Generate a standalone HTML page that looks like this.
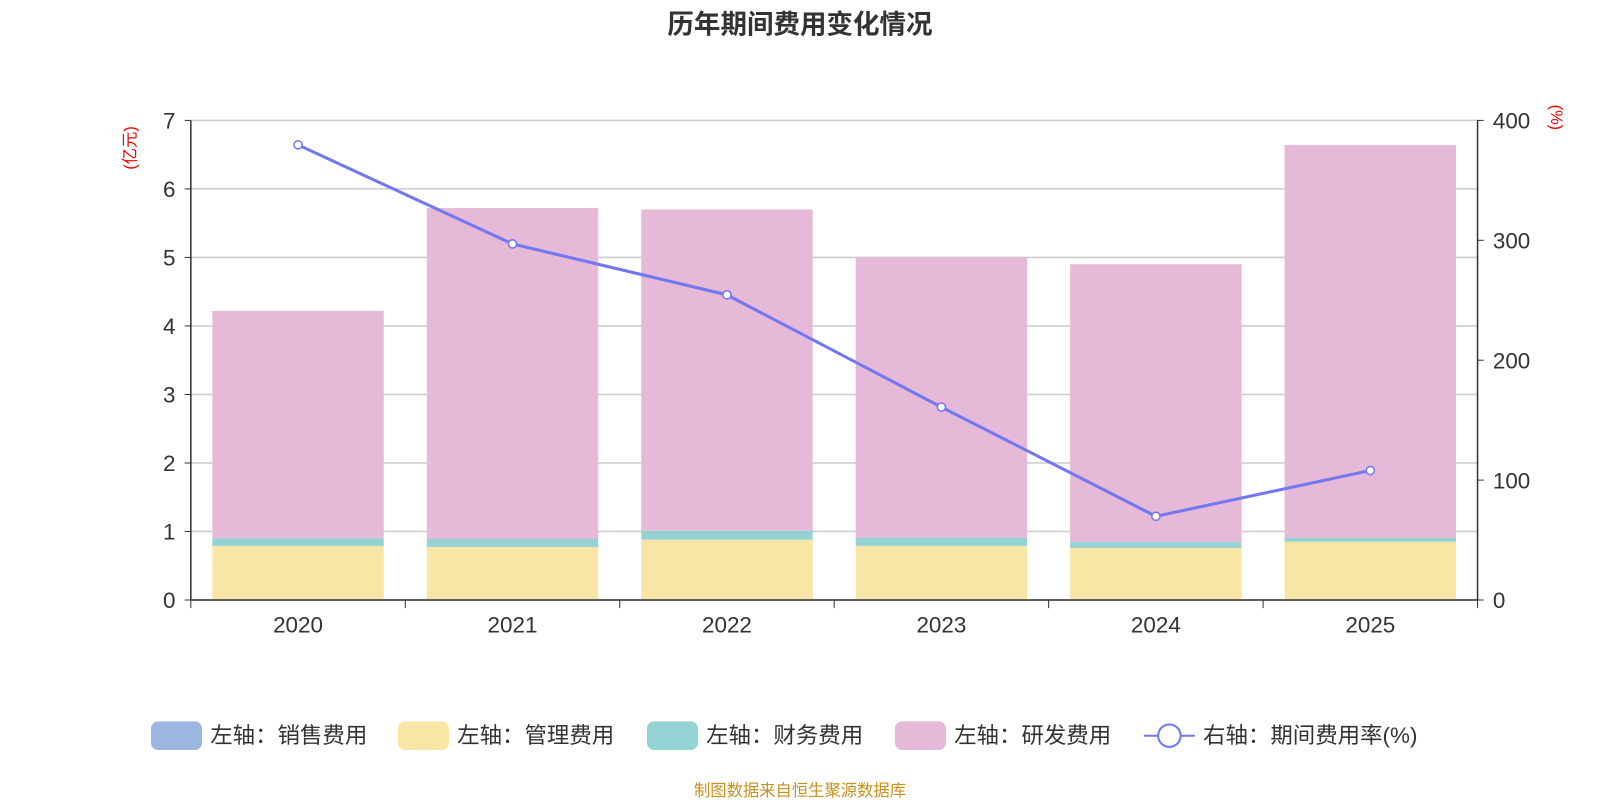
<!DOCTYPE html>
<html><head><meta charset="utf-8">
<style>
body{margin:0;background:#fff;font-family:"Liberation Sans","Noto Sans CJK SC",sans-serif;}
svg{display:block;}
svg text{font-family:"Liberation Sans","Noto Sans CJK SC",sans-serif;}
</style></head>
<body>
<svg width="1600" height="800" viewBox="0 0 1568 784" xmlns="http://www.w3.org/2000/svg" id="chart">
<text x="784" y="33" text-anchor="middle" font-size="26" font-weight="bold" fill="#333">历年期间费用变化情况</text>
<g id="grid"></g><g id="bars"></g><g id="axes"></g><g id="line"></g>
<text transform="translate(133,145) rotate(-90)" text-anchor="middle" font-size="16" fill="#e00">(亿元)</text>
<text transform="translate(1520,115) rotate(90)" text-anchor="middle" font-size="16" fill="#e00">(%)</text>
<g id="legend"></g>
<text x="784" y="780" text-anchor="middle" font-size="16" fill="#c8901e">制图数据来自恒生聚源数据库</text>
</svg>
<script>
const categories=["2020","2021","2022","2023","2024","2025"];
const sales=[0,0,0,0,0,0];
const mgmt=[0.79,0.775,0.88,0.79,0.76,0.85];
const finance=[0.11,0.115,0.13,0.12,0.09,0.06];
const rnd=[3.32,4.83,4.69,4.09,4.05,5.73];
const rate=[379.6,297,254.5,160.9,69.8,108];
const leftTicks=[0,1,2,3,4,5,6,7];
const rightTicks=[0,100,200,300,400];
const seriesNames=["左轴：销售费用","左轴：管理费用","左轴：财务费用","左轴：研发费用"];
const colors=["#9bb7e0","#f7e6a6","#94d2d3","#e6b9d8"];
const NS="http://www.w3.org/2000/svg";
const L=187,R=1448,T=118,B=588;
const yL=v=>B-(v/7)*(B-T);
const yR=v=>B-(v/400)*(B-T);
const bw=(R-L)/categories.length;
const xC=i=>L+bw*(i+0.5);
function mk(p,tag,a){const e=document.createElementNS(NS,tag);for(const k in a)e.setAttribute(k,a[k]);document.getElementById(p).appendChild(e);return e;}
leftTicks.forEach(t=>{
 const g=mk("grid","line",{x1:L,x2:R,y1:yL(t),y2:yL(t),stroke:"#ccc","stroke-width":1.5});
 
 
 const tx=mk("axes","text",{x:L-15,y:yL(t)+8,"text-anchor":"end","font-size":22,fill:"#333"});tx.textContent=t;
 
 
 mk("axes","line",{x1:L-6,x2:L,y1:yL(t),y2:yL(t),stroke:"#333"});
});
rightTicks.forEach(t=>{
 const tx=mk("axes","text",{x:R+15,y:yR(t)+8,"font-size":22,fill:"#333"});tx.textContent=t;
 
 
 mk("axes","line",{x1:R,x2:R+6,y1:yR(t),y2:yR(t),stroke:"#333"});
});
mk("axes","line",{x1:L,x2:L,y1:T,y2:B,stroke:"#333","stroke-width":1.5});
mk("axes","line",{x1:R,x2:R,y1:T,y2:B,stroke:"#333","stroke-width":1.5});
mk("axes","line",{x1:L,x2:R,y1:B,y2:B,stroke:"#333","stroke-width":1.5});
for(let i=0;i<=categories.length;i++)mk("axes","line",{x1:L+bw*i,x2:L+bw*i,y1:B,y2:B+8,stroke:"#333"});
categories.forEach((c,i)=>{
 const tx=mk("axes","text",{x:xC(i),y:B+32,"text-anchor":"middle","font-size":22,fill:"#333"});tx.textContent=c;
 
 
 let base=0;
 [sales,mgmt,finance,rnd].forEach((s,k)=>{
  const v=s[i];const r=mk("bars","rect",{x:xC(i)-84,width:168,y:yL(base+v),height:yL(base)-yL(base+v),fill:colors[k]});
  
  
  base+=v;
 });
});
const pl=mk("line","polyline",{points:rate.map((v,i)=>xC(i)+","+yR(v)).join(" "),fill:"none",stroke:"#7378f0","stroke-width":3});


rate.forEach((v,i)=>{const c=mk("line","circle",{cx:xC(i),cy:yR(v),r:4,fill:"#fff",stroke:"#7378f0","stroke-width":1.5});
 
 });
const lx=[148,390,634,877];
seriesNames.forEach((n,k)=>{
 const r=mk("legend","rect",{x:lx[k],y:707,width:50,height:28,rx:7,fill:colors[k]});
 
 
 const t=mk("legend","text",{x:lx[k]+58,y:728,"font-size":22,fill:"#333"});t.textContent=n;
 
 
});
mk("legend","line",{x1:1121,x2:1171,y1:721,y2:721,stroke:"#7378f0","stroke-width":2});
mk("legend","circle",{cx:1146,cy:721,r:11,fill:"#fff",stroke:"#7378f0","stroke-width":2});
const lt=mk("legend","text",{x:1179,y:728,"font-size":22,fill:"#333"});lt.textContent="右轴：期间费用率(%)";


</script>
</body></html>
